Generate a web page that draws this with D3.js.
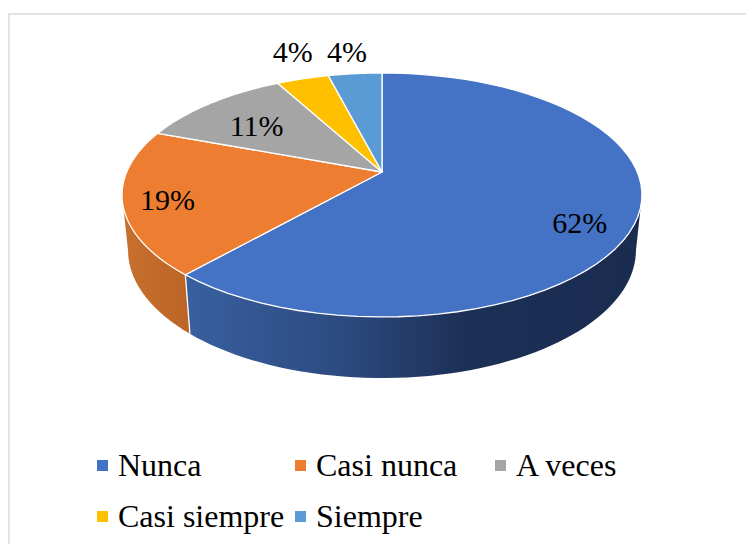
<!DOCTYPE html>
<html><head><meta charset="utf-8">
<script src="https://cdn.jsdelivr.net/npm/d3@7"></script>
<style>html,body{margin:0;padding:0;background:#fff}svg{display:block}text{font-family:"Liberation Serif",serif;fill:#000}</style>
</head><body><svg id="c" width="746" height="544"></svg>
<script>
const categories=["Nunca","Casi nunca","A veces","Casi siempre","Siempre"];
const values=[61.5,19.2,11.4,3.9,4.0];
const colors=["#4472C4","#ED7D31","#A5A5A5","#FFC000","#5B9BD5"];
// layout only
const labelNudge=[[-58,7],[45,-2],[46,23],[-10,-27],[-8,-22]];
const legendCols=[97,295,495], legendRows=[460,511];

const svg=d3.select("#c");
svg.append("rect").attr("x",9).attr("y",14).attr("width",745).attr("height",545)
  .attr("fill","#fff").attr("stroke","#d9d9d9").attr("stroke-width",1.5);

const P=-0.1885;
function projector(cx,cy,a,b){
  return (t,r=1)=>{const X=r*Math.sin(t),Y=-r*Math.cos(t),w=1+P*Y;return [cx+a*X/w,cy+b*Y/w];};
}
const topP=projector(382,172,255.3,117.66);
const botP=projector(382,226,249.4,123.4);

const arcs=d3.pie().sort(null)(values);
const line=d3.line();
const sampled=(a,b)=>d3.range(0,61).map(i=>a+(b-a)*i/60);

const defs=svg.append("defs");
function grad(id,x1,x2,stops){
  const g=defs.append("linearGradient").attr("id",id).attr("gradientUnits","userSpaceOnUse")
    .attr("x1",x1).attr("x2",x2).attr("y1",0).attr("y2",0);
  stops.forEach(([o,c])=>g.append("stop").attr("offset",o).attr("stop-color",c));
}
grad("wall0",186,640,[[0,"#38609f"],[0.35,"#2c4a7f"],[0.62,"#1c2f55"],[1,"#1a2c50"]]);
grad("wall1",122,190,[[0,"#c8702c"],[1,"#bc6426"]]);

// side walls: front-facing part, between the left and right extremes of the rim
const minT=Math.PI*101/180, maxT=Math.PI*259/180;
arcs.forEach((d,i)=>{
  const s=Math.max(d.startAngle,minT), e=Math.min(d.endAngle,maxT);
  if(e<=s) return;
  const ts=sampled(s,e);
  const pts=ts.map(t=>topP(t)).concat(ts.slice().reverse().map(t=>botP(t)));
  svg.append("path").attr("d",line(pts)+"Z").attr("fill",`url(#wall${i})`);
});
// seam between walls
const seamT=arcs[0].endAngle;
svg.append("path").attr("d",line([topP(seamT),botP(seamT)])).attr("stroke","#fff").attr("stroke-width",1.3).attr("fill","none");

// top face
arcs.forEach((d,i)=>{
  const pts=[topP(0,0)].concat(sampled(d.startAngle,d.endAngle).map(t=>topP(t)));
  svg.append("path").attr("d",line(pts)+"Z").attr("fill",colors[i])
    .attr("stroke","#fff").attr("stroke-width",1.3).attr("stroke-linejoin","round");
});

// value labels
arcs.forEach((d,i)=>{
  const [x,y]=topP((d.startAngle+d.endAngle)/2);
  svg.append("text").attr("x",x+labelNudge[i][0]).attr("y",y+labelNudge[i][1])
    .attr("text-anchor","middle").attr("dy","0.33em").attr("font-size",30).text(Math.round(values[i])+"%");
});

// legend
categories.forEach((c,i)=>{
  const col=i<3?i:i-3,row=i<3?0:1;
  svg.append("rect").attr("x",legendCols[col]).attr("y",legendRows[row]).attr("width",11).attr("height",11).attr("fill",colors[i]);
  svg.append("text").attr("x",legendCols[col]+21).attr("y",legendRows[row]+15.5).attr("font-size",32).text(c);
});
</script></body></html>
